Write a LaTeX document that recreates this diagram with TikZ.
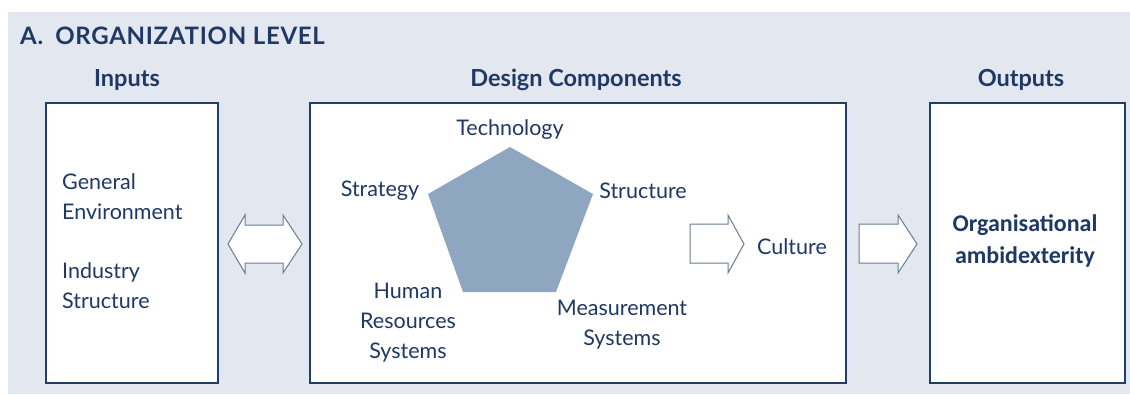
\documentclass[tikz,border=0pt]{standalone}
\usepackage{fontspec}
\setmainfont{Lato}
\newfontfamily\calibrifont{Carlito}
\newfontfamily\titlefont[LetterSpace=3]{Lato}
\usetikzlibrary{positioning}
\definecolor{navytext}{HTML}{1F3864}
\definecolor{boxline}{HTML}{1D3F68}
\definecolor{panel}{HTML}{E2E7F0}
\definecolor{pentfill}{HTML}{8FA6C1}
\definecolor{arrowline}{HTML}{6B7C93}
\tikzset{
  levelbox/.style={draw=boxline,line width=2.5pt,fill=white,minimum height=280pt},
  heading/.style={font=\bfseries\fontsize{23.5}{26}\selectfont,text=navytext,inner sep=0pt},
  comptext/.style={font=\fontsize{21.5}{30}\selectfont,text=navytext,align=center,inner sep=0pt},
  blockarrow/.style={draw=arrowline,fill=white,line width=1pt,line join=miter}
}

\begin{document}
\begin{tikzpicture}[x=1pt,y=-1pt]
\useasboundingbox (0,0) rectangle (1130,394);
\fill[panel] (8,12) rectangle (1130,394);
\node[heading,anchor=west,font=\titlefont\bfseries\fontsize{24}{26}\selectfont] (title) at (20,36) {A.\hspace{0.5em}ORGANIZATION LEVEL};

% boxes
\node[levelbox,minimum width=172pt] (inbox) at (132,243) {};
\node[levelbox,minimum width=536pt] (designbox) at (578,243) {};
\node[levelbox,minimum width=195pt] (outbox) at (1027.5,243) {};
\node[heading] (inputs) at (127,80) {Inputs};
\node[heading] (design) at (576,80) {Design Components};
\node[heading] (outputs) at (1021,80) {Outputs};

% inputs
\node[comptext,align=left,anchor=west] (genenv) at (62,197) {General\\Environment};
\node[comptext,align=left,anchor=west] (indstr) at (62,285.5) {Industry\\Structure};

% pentagon
\coordinate (ptop) at (510,147);
\coordinate (pright) at (593,194);
\coordinate (pbr) at (556,292);
\coordinate (pbl) at (463,292);
\coordinate (pleft) at (428,194);
\fill[pentfill] (ptop) -- (pright) -- (pbr) -- (pbl) -- (pleft) -- cycle;
\node[comptext] (tech) at (510,130) {Technology};
\node[comptext] (strat) at (380,191) {Strategy};
\node[comptext] (struct) at (643,191) {Structure};
\node[comptext] (hrs) at (408,322.5) {Human\\Resources\\Systems};
\node[comptext] (meas) at (622,325) {Measurement\\Systems};
\node[comptext] (culture) at (792,247) {Culture};

% outputs
\node[font=\calibrifont\bfseries\fontsize{24}{32}\selectfont,text=navytext,align=center,inner sep=0pt] (ambi) at (1025,241) {Organisational\\ambidexterity};

% block arrows
\draw[blockarrow] (228,244) -- (245,215) -- (245,225) -- (283,225) -- (283,215) -- (302,244)
  -- (283,273) -- (283,263) -- (245,263) -- (245,273) -- cycle;
\draw[blockarrow] (690,224) -- (728,224) -- (728,215) -- (744,244) -- (728,273) -- (728,263) -- (690,263) -- cycle;
\draw[blockarrow] (859,224) -- (898,224) -- (898,215) -- (917,244) -- (898,273) -- (898,263) -- (859,263) -- cycle;
\end{tikzpicture}
\end{document}
